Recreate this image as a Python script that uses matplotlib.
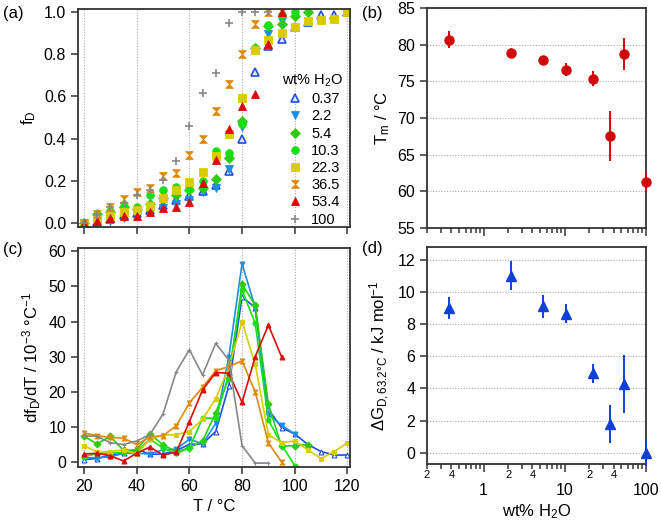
import numpy as np
import matplotlib
matplotlib.use("Agg")
from matplotlib import pyplot as plt
from matplotlib import ticker

plt.rcParams["font.family"] = ["Liberation Sans", "DejaVu Sans"]
plt.rcParams["mathtext.fontset"] = "custom"
plt.rcParams["mathtext.rm"] = "Liberation Sans"
plt.rcParams["mathtext.it"] = "Liberation Sans"
plt.rcParams["mathtext.default"] = "regular"

# ---- data ----
temps = [20, 25, 30, 35, 40, 45, 50, 55, 60, 65, 70, 75, 80, 85, 90, 95, 100, 105, 110, 115, 120]
water = [0.37, 2.2, 5.4, 10.3, 22.3, 36.5, 53.4, 100]
labels = ["0.37", "2.2", "5.4", "10.3", "22.3", "36.5", "53.4", "100"]

# fraction denatured f_D vs T (panel a)
fD_037 = [0.0, 0.004, 0.02, 0.035, 0.045, 0.06, 0.085, 0.11, 0.125, 0.15, 0.18, 0.245, 0.40, 0.715, 0.84, 0.875, 0.93, 0.955, 0.985, 0.985, 1.0]
fD_22 = [0.0, 0.0, 0.01, 0.025, 0.035, 0.05, 0.07, 0.09, 0.11, 0.145, 0.165, 0.255, 0.455, 0.82, 0.895, 0.96, 1.0]
fD_54 = [0.0, 0.04, 0.05, 0.075, 0.065, 0.09, 0.12, 0.13, 0.155, 0.165, 0.21, 0.31, 0.485, 0.83, 0.935, 0.945, 0.98, 1.0]
fD_103 = [0.0, 0.03, 0.055, 0.08, 0.075, 0.13, 0.155, 0.17, 0.16, 0.2, 0.34, 0.33, 0.47, 0.83, 0.94, 0.985, 1.0]
fD_223 = [0.0, 0.02, 0.03, 0.05, 0.06, 0.08, 0.12, 0.155, 0.195, 0.24, 0.315, 0.42, 0.595, 0.82, 0.87, 0.90, 0.93, 0.96, 0.965, 0.97, 1.0]
fD_365 = [0.0, 0.042, 0.075, 0.112, 0.145, 0.165, 0.22, 0.235, 0.32, 0.40, 0.53, 0.66, 0.80, 0.945, 1.0, 1.0]
fD_534 = [0.0, 0.01, 0.025, 0.03, 0.03, 0.05, 0.07, 0.075, 0.10, 0.19, 0.30, 0.445, 0.555, 0.61, 0.85, 1.0]
fD_100 = [0.0, 0.038, 0.075, 0.095, 0.13, 0.155, 0.205, 0.295, 0.46, 0.615, 0.71, 0.95, 1.0, 1.0, 1.0]

# derivative dfD/dT (x 10^-3 per degC) vs T (panel c)
d_037 = [0.7, 1.0, 2.0, 2.5, 3.7, 2.2, 2.3, 3.3, 5.0, 5.2, 8.7, 21.7, 47, 44, 15, 9.8, 8, 5, 3, 2, 2]
d_22 = [1.3, 1.2, 1.5, 2.5, 2.5, 2.3, 3.5, 3.7, 6.5, 5.2, 11, 30, 56.5, 44, 13.5, 10.5, 8]
d_54 = [7.3, 5.2, 7.3, 3.3, 3.5, 8.0, 4.9, 3.0, 4.0, 6.0, 14, 24, 50.7, 44.6, 16.5, 4.5, 4.7, 5.0]
d_103 = [1.5, 2.5, 2.5, 2.8, 3.0, 6.5, 4.0, 2.5, 4.0, 12.5, 12.5, 25, 49, 39.5, 12, 5.0, -1]
d_223 = [4.7, 2.8, 3.0, 3.5, 2.3, 6.5, 7.7, 7.8, 8.7, 12.2, 18, 27, 40, 27.8, 7.8, 5.5, 6.0, 3.5, 1.0, 3.0, 5.5]
d_365 = [8.3, 7.5, 7.0, 6.8, 5.0, 7.2, 7.5, 10.3, 16.8, 21.3, 26, 27.2, 28.8, 20, 5.5, 0]
d_534 = [2.3, 2.5, 1.8, 0.3, 2.5, 4.3, 2.0, 2.8, 11.5, 20.5, 25.5, 25.3, 17, 30, 39, 30]
d_100 = [7.5, 7.3, 5.5, 5.0, 6.0, 7.8, 13.7, 25.7, 32, 24.8, 33.8, 29, 4.7, -0.3, -0.3]

# melting temperature (panel b)
Tm = [80.7, 78.9, 77.9, 76.6, 75.4, 67.6, 78.7, 61.3]
Tm_err = [1.2, 0.65, 0.55, 0.9, 1.0, 3.4, 2.2, 1.2]

# free energy at 63.2 degC (panel d)
dG = [9.0, 11.0, 9.1, 8.65, 4.95, 1.8, 4.3, 0.0]
dG_err = [0.7, 0.9, 0.7, 0.6, 0.6, 1.2, 1.8, 0.8]

fD_all = [fD_037, fD_22, fD_54, fD_103, fD_223, fD_365, fD_534, fD_100]
d_all = [d_037, d_22, d_54, d_103, d_223, d_365, d_534, d_100]

hourglass = [(-1, 1), (1, 1), (-1, -1), (1, -1), (-1, 1)]
colors = ["#1f4fe6", "#1a8fe3", "#2ecc10", "#18e018", "#d8cc00", "#e08a0c", "#dd0a0a", "#888888"]
markers = ["^", "v", "D", "o", "s", hourglass, "^", "+"]
sizes = [5.5, 6, 5, 5.5, 5.5, 5.5, 6, 6]

spine_col = "#333333"
grid_kw = dict(color="#aaaaaa", linestyle=(0, (1, 1.5)), linewidth=0.8)

fig = plt.figure(figsize=(6.61, 5.26), dpi=100)
ax_a = fig.add_axes([0.118, 0.5684, 0.4115, 0.4144])
ax_c = fig.add_axes([0.118, 0.1122, 0.4115, 0.416])
ax_b = fig.add_axes([0.646, 0.5665, 0.331, 0.418])
ax_d = fig.add_axes([0.646, 0.1179, 0.331, 0.4125])

for ax in (ax_a, ax_b, ax_c, ax_d):
    for s in ax.spines.values():
        s.set_color(spine_col)
        s.set_linewidth(1.3)
    ax.tick_params(which="both", direction="out", color=spine_col, labelsize=11.5, width=1.1)
    ax.tick_params(which="major", length=5)

# ---- panel a ----
for i in range(8):
    vals = fD_all[i]
    face = "#dde6ff" if i == 0 else colors[i]
    ax_a.plot(temps[:len(vals)], vals, linestyle="none", marker=markers[i],
              ms=sizes[i], color=colors[i], mfc=face, mew=1.2 if i in (0, 7) else 0.6,
              label=labels[i])
ax_a.set_xlim(17.7, 121)
ax_a.set_ylim(-0.02, 1.015)
ax_a.set_xticks([20, 40, 60, 80, 100, 120])
ax_a.set_yticks([0.0, 0.2, 0.4, 0.6, 0.8, 1.0])
ax_a.yaxis.set_major_formatter(ticker.FormatStrFormatter("%.1f"))
ax_a.tick_params(axis="x", labelbottom=False)
ax_a.grid(axis="x", **grid_kw)
ax_a.set_ylabel("f$_D$", fontsize=12)
leg = ax_a.legend(title="wt% H$_2$O", loc="center left", bbox_to_anchor=(0.725, 0.355),
                  frameon=False, fontsize=10.5, title_fontsize=10.5, handletextpad=0.5,
                  labelspacing=0.22, borderpad=0.0, handlelength=1.2)

# ---- panel c ----
for i in range(8):
    vals = d_all[i]
    face = "white" if i == 0 else colors[i]
    ax_c.plot(temps[:len(vals)], vals, marker=markers[i], ms=3.5, color=colors[i],
              mfc=face, lw=1.2, mew=0.8)
ax_c.set_xlim(17.7, 121)
ax_c.set_ylim(-1.4, 60.9)
ax_c.set_xticks([20, 40, 60, 80, 100, 120])
ax_c.set_yticks([0, 10, 20, 30, 40, 50, 60])
ax_c.grid(axis="x", **grid_kw)
ax_c.set_xlabel("T / °C", fontsize=12)
ax_c.set_ylabel("df$_D$/dT / 10$^{-3}$ °C$^{-1}$", fontsize=12)

# ---- panel b ----
ax_b.errorbar(water, Tm, yerr=Tm_err, fmt="o", color="#d00a0a", ms=6.5, elinewidth=1.4,
              capsize=0, clip_on=False, zorder=3)
ax_b.set_xscale("log")
ax_b.set_xlim(0.2, 100)
ax_b.set_ylim(55, 85)
ax_b.set_yticks([55, 60, 65, 70, 75, 80, 85])
ax_b.grid(axis="y", which="major", **grid_kw)
ax_b.tick_params(axis="x", which="both", labelbottom=False)
ax_b.tick_params(axis="x", which="major", length=6)
ax_b.tick_params(axis="x", which="minor", length=3.5)
ax_b.set_ylabel("T$_m$ / °C", fontsize=12)

# ---- panel d ----
ax_d.errorbar(water, dG, yerr=dG_err, fmt="^", color="#1040d8", ms=7.5, elinewidth=1.4,
              capsize=0, clip_on=False, zorder=3)
ax_d.set_xscale("log")
ax_d.set_xlim(0.2, 100)
ax_d.set_ylim(-0.7, 12.8)
ax_d.set_yticks([0, 2, 4, 6, 8, 10, 12])
ax_d.grid(axis="y", which="major", **grid_kw)
ax_d.xaxis.set_major_locator(ticker.FixedLocator([1, 10, 100]))
ax_d.xaxis.set_major_formatter(ticker.FixedFormatter(["1", "10", "100"]))
ax_d.xaxis.set_minor_locator(ticker.LogLocator(base=10, subs=np.arange(2, 10), numticks=20))


def minor_fmt(x, pos):
    m = x / 10 ** np.floor(np.log10(x) + 1e-9)
    if abs(m - 2) < 1e-6 or abs(m - 4) < 1e-6:
        return "%d" % round(m)
    return ""


ax_d.xaxis.set_minor_formatter(ticker.FuncFormatter(minor_fmt))
ax_d.tick_params(axis="x", which="major", length=6, pad=8)
ax_d.tick_params(axis="x", which="minor", length=3.5, labelsize=8, pad=0.5)
ax_d.set_xlabel("wt% H$_2$O", fontsize=12, labelpad=3)
ax_d.set_ylabel("ΔG$_{D,63.2°C}$ / kJ mol$^{-1}$", fontsize=12)

# panel letters
fig.text(0.005, 0.975, "(a)", fontsize=12, va="center")
fig.text(0.548, 0.975, "(b)", fontsize=12, va="center")
fig.text(0.005, 0.525, "(c)", fontsize=12, va="center")
fig.text(0.548, 0.527, "(d)", fontsize=12, va="center")

fig.savefig("out.png", dpi=100)
